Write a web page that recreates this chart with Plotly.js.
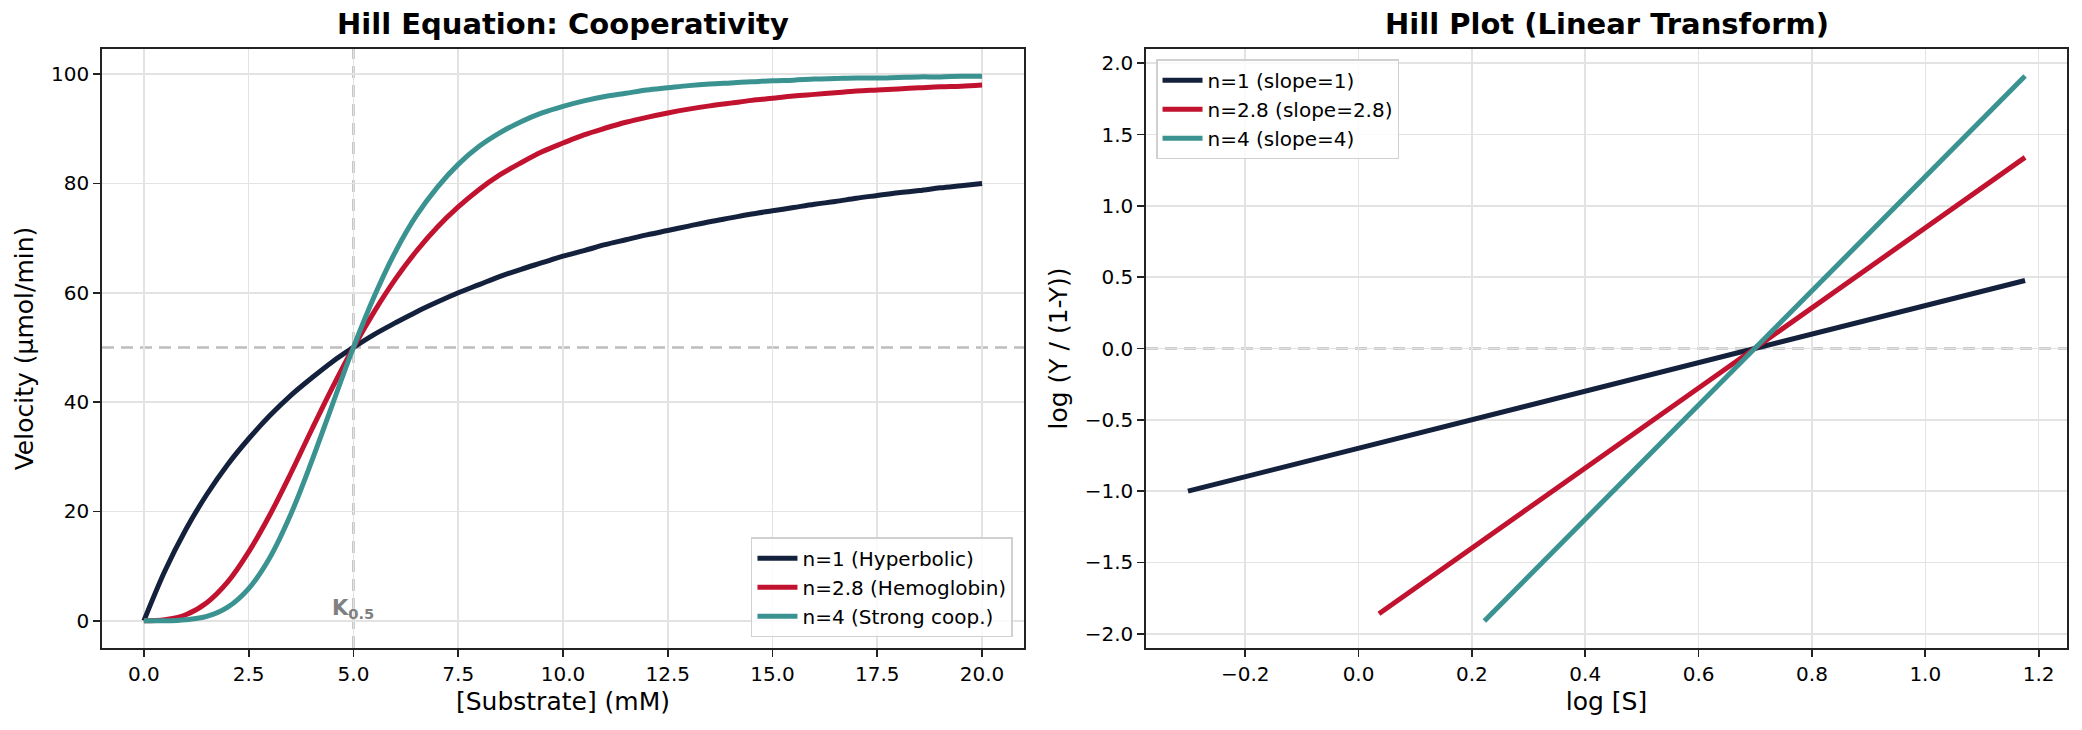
<!DOCTYPE html>
<html>
<head>
<meta charset="utf-8">
<script src="https://cdn.plot.ly/plotly-3.0.1.min.js"></script>
<style>
  html, body { margin: 0; padding: 0; background: #fff; }
  #myPlot { width: 2082px; height: 730px; }
</style>
</head>
<body>
<div id="myPlot"></div>
<script>
// Substrate concentrations (mM)
var substrate = [0, 0.5, 1, 1.5, 2, 2.5, 3, 3.5, 4, 4.5, 5, 5.5, 6, 6.5, 7, 7.5, 8, 8.5, 9, 9.5, 10,
                 10.5, 11, 11.5, 12, 12.5, 13, 13.5, 14, 14.5, 15, 15.5, 16, 16.5, 17, 17.5, 18, 18.5, 19, 19.5, 20];

// Velocity (umol/min) for each curve
var vHyperbolic = [0, 9.1, 16.7, 23.1, 28.6, 33.3, 37.5, 41.2, 44.4, 47.4, 50, 52.4, 54.5, 56.5, 58.3, 60, 61.5, 63.0, 64.3, 65.5, 66.7,
                   67.7, 68.8, 69.7, 70.6, 71.4, 72.2, 73.0, 73.7, 74.4, 75, 75.6, 76.2, 76.7, 77.3, 77.8, 78.3, 78.7, 79.2, 79.6, 80];
var vHemoglobin = [0, 0.2, 1.1, 3.3, 7.1, 12.6, 19.3, 26.9, 34.9, 42.7, 50, 56.6, 62.5, 67.6, 72.0, 75.7, 78.9, 81.6, 83.8, 85.8, 87.4,
                   88.9, 90.1, 91.2, 92.1, 92.9, 93.6, 94.2, 94.7, 95.2, 95.6, 96.0, 96.3, 96.6, 96.9, 97.1, 97.3, 97.5, 97.7, 97.8, 98.0];
var vStrong     = [0, 0.0, 0.2, 0.8, 2.5, 5.9, 11.5, 19.4, 29.1, 39.6, 50, 59.4, 67.5, 74.1, 79.3, 83.5, 86.8, 89.3, 91.3, 92.9, 94.1,
                   95.1, 95.9, 96.5, 97.1, 97.5, 97.9, 98.2, 98.4, 98.6, 98.8, 98.9, 99.1, 99.2, 99.3, 99.3, 99.4, 99.5, 99.5, 99.6, 99.6];

// Hill plot lines (log [S] vs log(Y/(1-Y))), end points
var logS1  = [-0.301, 1.176];
var logY1  = [-1.0, 0.477];
var logS28 = [0.036, 1.176];
var logY28 = [-1.86, 1.34];
var logS4  = [0.222, 1.176];
var logY4  = [-1.91, 1.91];

var names1 = ['n=1 (Hyperbolic)', 'n=2.8 (Hemoglobin)', 'n=4 (Strong coop.)'];
var names2 = ['n=1 (slope=1)', 'n=2.8 (slope=2.8)', 'n=4 (slope=4)'];
var lineColors = ['#14213d', '#c1122f', '#3a9391'];

var FONT = 'DejaVu Sans, sans-serif';

function curve(x, y, name, color, xa, ya, leg) {
    /* One solid line trace */
    return {
        x: x, y: y, name: name,
        type: 'scatter', mode: 'lines',
        line: { color: color, width: 5, shape: 'spline', smoothing: 1 },
        xaxis: xa, yaxis: ya, legend: leg,
        hoverinfo: 'skip'
    };
}

function axisStyle(extra) {
    var a = {
        showline: true, mirror: true, linecolor: '#222', linewidth: 1.7,
        ticks: 'outside', ticklen: 7, tickwidth: 1.7, tickcolor: '#222',
        showgrid: true, gridcolor: '#e3e3e3', gridwidth: 1.6,
        zeroline: false,
        tickfont: { family: FONT, size: 20, color: '#000' }
    };
    for (var k in extra) { a[k] = extra[k]; }
    return a;
}

var data = [
    curve(substrate, vHyperbolic, names1[0], lineColors[0], 'x', 'y', 'legend'),
    curve(substrate, vHemoglobin, names1[1], lineColors[1], 'x', 'y', 'legend'),
    curve(substrate, vStrong,     names1[2], lineColors[2], 'x', 'y', 'legend'),
    curve(logS1,  logY1,  names2[0], lineColors[0], 'x2', 'y2', 'legend2'),
    curve(logS28, logY28, names2[1], lineColors[1], 'x2', 'y2', 'legend2'),
    curve(logS4,  logY4,  names2[2], lineColors[2], 'x2', 'y2', 'legend2')
];

var dashLine = { color: '#bdbdbd', width: 2.6, dash: '12px,7px' };

var legendStyle = {
    font: { family: FONT, size: 20, color: '#000' },
    bgcolor: 'rgba(255,255,255,0.8)', bordercolor: '#d0d0d0', borderwidth: 1.5,
    itemwidth: 40
};

var layout = {
    width: 2082, height: 730,
    margin: { l: 102, r: 15, t: 49, b: 82 },
    paper_bgcolor: '#fff', plot_bgcolor: '#fff',
    font: { family: FONT, color: '#000' },
    xaxis: axisStyle({
        domain: [0, 0.4692], range: [-1, 21], tick0: 0, dtick: 2.5, tickformat: '.1f',
        title: { text: '[Substrate] (mM)', font: { family: FONT, size: 25 }, standoff: 8 }
    }),
    yaxis: axisStyle({
        domain: [0, 1], range: [-4.98, 104.6], tick0: 0, dtick: 20, tickformat: 'd',
        title: { text: 'Velocity (μmol/min)', font: { family: FONT, size: 25 }, standoff: 10 }
    }),
    xaxis2: axisStyle({
        domain: [0.5313, 1], range: [-0.375, 1.25], tick0: 0, dtick: 0.2, tickformat: '.1f',
        anchor: 'y2',
        title: { text: 'log [S]', font: { family: FONT, size: 25 }, standoff: 8 }
    }),
    yaxis2: axisStyle({
        domain: [0, 1], range: [-2.1, 2.1], tick0: 0, dtick: 0.5, tickformat: '.1f',
        anchor: 'x2',
        title: { text: 'log (Y / (1-Y))', font: { family: FONT, size: 25 }, standoff: 10 }
    }),
    legend: Object.assign({ x: 0.4636, xanchor: 'right', y: 0.018, yanchor: 'bottom' }, legendStyle),
    legend2: Object.assign({ x: 0.5364, xanchor: 'left', y: 0.983, yanchor: 'top' }, legendStyle),
    shapes: [
        // Half-saturation guides on the left, zero line on the right
        { type: 'line', xref: 'x', yref: 'y domain', x0: 5, x1: 5, y0: 0, y1: 1, line: dashLine, layer: 'below' },
        { type: 'line', xref: 'x domain', yref: 'y', x0: 0, x1: 1, y0: 50, y1: 50, line: dashLine, layer: 'below' },
        { type: 'line', xref: 'x2 domain', yref: 'y2', x0: 0, x1: 1, y0: 0, y1: 0, line: dashLine, layer: 'below' }
    ],
    annotations: [
        { text: '<b>Hill Equation: Cooperativity</b>', xref: 'paper', yref: 'paper', x: 0.2346, y: 1,
          xanchor: 'center', yanchor: 'bottom', yshift: 6, showarrow: false,
          font: { family: FONT, size: 29, color: '#000' } },
        { text: '<b>Hill Plot (Linear Transform)</b>', xref: 'paper', yref: 'paper', x: 0.7657, y: 1,
          xanchor: 'center', yanchor: 'bottom', yshift: 6, showarrow: false,
          font: { family: FONT, size: 29, color: '#000' } },
        { text: '<b>K<sub>0.5</sub></b>', xref: 'x', yref: 'y', x: 5, y: 0,
          xanchor: 'center', yanchor: 'bottom', yshift: -3, showarrow: false,
          font: { family: FONT, size: 21, color: '#808080' } }
    ]
};

var config = { staticPlot: true, displayModeBar: false };

Plotly.newPlot('myPlot', data, layout, config);
</script>
</body>
</html>
